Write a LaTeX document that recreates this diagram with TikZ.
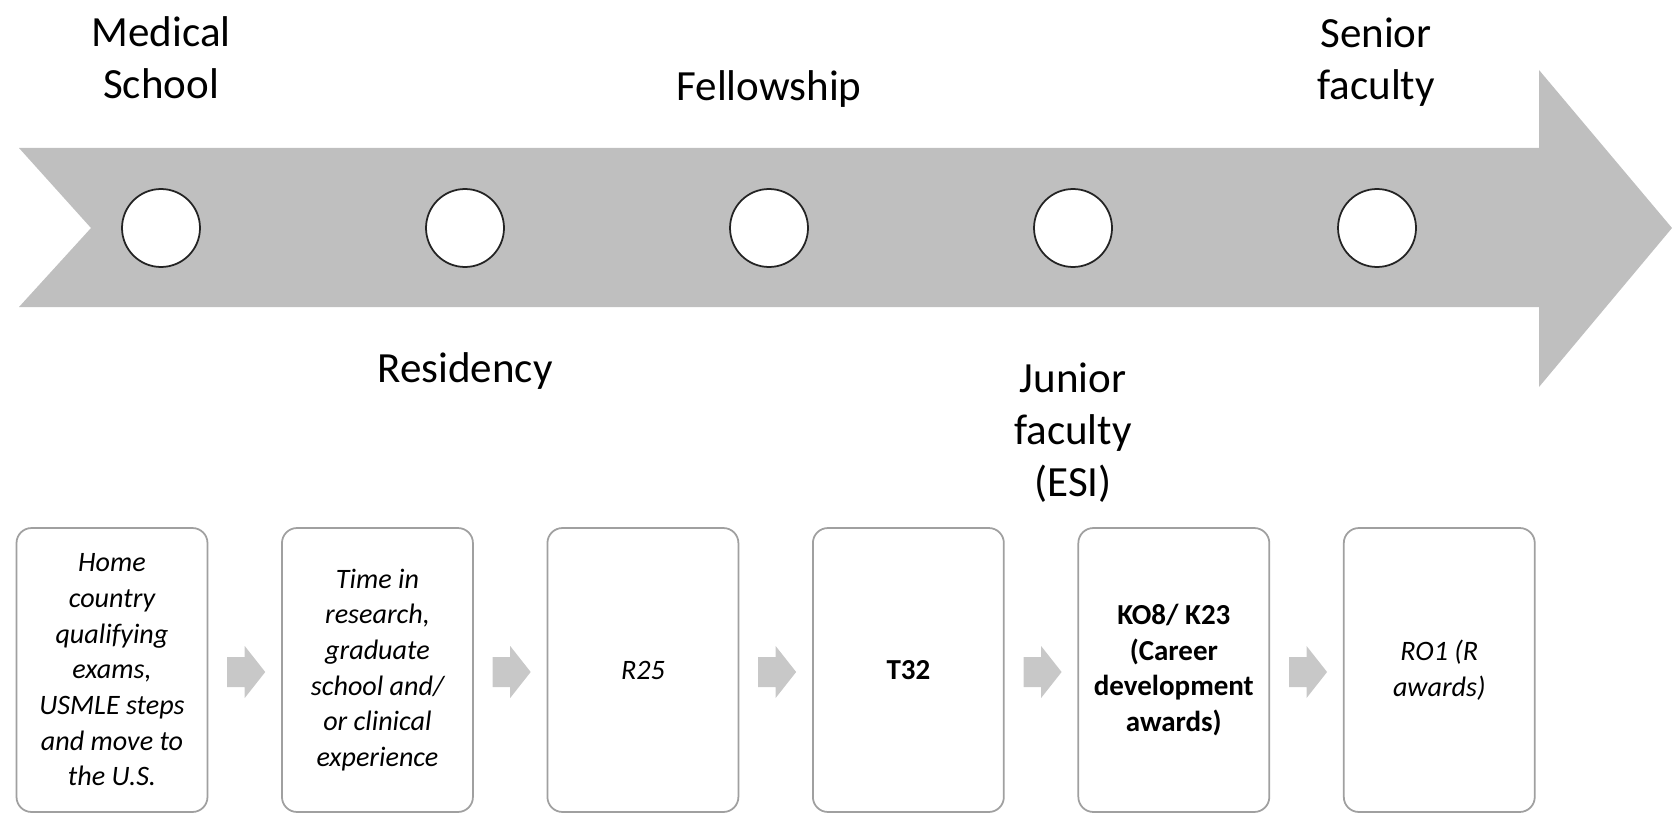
\documentclass[tikz,border=0pt]{standalone}
\usepackage{fontspec}
\setmainfont{Carlito}
\usetikzlibrary{positioning}
\definecolor{bandgray}{RGB}{191,191,191}
\definecolor{gapgray}{RGB}{200,200,200}
\definecolor{boxgray}{RGB}{160,160,160}
\definecolor{ringgray}{RGB}{35,35,35}
\begin{document}
\begin{tikzpicture}[
  x=0.02cm, y=-0.02cm,
  node distance=1.455cm,
  stagenode/.style={circle, draw=ringgray, fill=white, line width=1pt, inner sep=0pt, minimum size=1.56cm},
  phase/.style={align=center, font=\fontsize{24.5}{29.6}\selectfont},
  awardbox/.style={rectangle, rounded corners=0.3cm, draw=boxgray, line width=1pt, fill=white,
                   minimum width=3.82cm, minimum height=5.68cm, align=center, inner sep=2pt,
                   font=\itshape\fontsize{16}{20.3}\selectfont},
  boldbox/.style={awardbox, font=\bfseries\fontsize{16.5}{20.3}\selectfont},
  gaparrow/.style={fill=gapgray}
]
  \useasboundingbox (0,0) rectangle (1672,814);

  % Flecha grande de la línea de tiempo
  \fill[bandgray] (19,148) -- (1539,148) -- (1539,70) -- (1672,228)
    -- (1539,387) -- (1539,307) -- (19,307) -- (91,228) -- cycle;

  % Hitos sobre la flecha (5 círculos)
  \foreach \j in {1,...,5} {
    \node[stagenode] (s\j) at ({161+(\j-1)*304}, 228) {};
  }

  % Etapas arriba y abajo de la flecha
  \node[phase] (med) at (161,58) {Medical\\School};
  \node[phase] (fel) at (769,89) {Fellowship};
  \node[phase] (sen) at (1376,62) {Senior\\faculty};
  \node[phase] (res) at (465,371) {Residency};
  \node[phase] (jun) at (1073,433) {Junior\\faculty\\(ESI)};

  % Cajas de becas y requisitos
  \node[awardbox] (c1) at (112,670) {Home\\country\\qualifying\\exams,\\USMLE steps\\and move to\\the U.S.};
  \node[awardbox, right=of c1] (c2) {Time in\\research,\\graduate\\school and/\\or clinical\\experience};
  \node[awardbox, right=of c2] (c3) {R25};
  \node[boldbox, right=of c3] (c4) {T32};
  \node[boldbox, right=of c4] (c5) {KO8/ K23\\(Career\\development\\awards)};
  \node[awardbox, right=of c5] (c6) {RO1 (R\\awards)};

  % Flechitas entre cajas
  \foreach \a/\b in {c1/c2, c2/c3, c3/c4, c4/c5, c5/c6} {
    \path (\a.east) -- (\b.west) coordinate[midway] (g\a);
    \fill[gaparrow] ([yshift=-0.04cm]g\a) ++(-17.5,-15) -- ++(17.5,0) -- ++(0,-11) -- ++(20.5,26)
      -- ++(-20.5,26) -- ++(0,-11) -- ++(-17.5,0) -- cycle;
  }
\end{tikzpicture}
\end{document}
